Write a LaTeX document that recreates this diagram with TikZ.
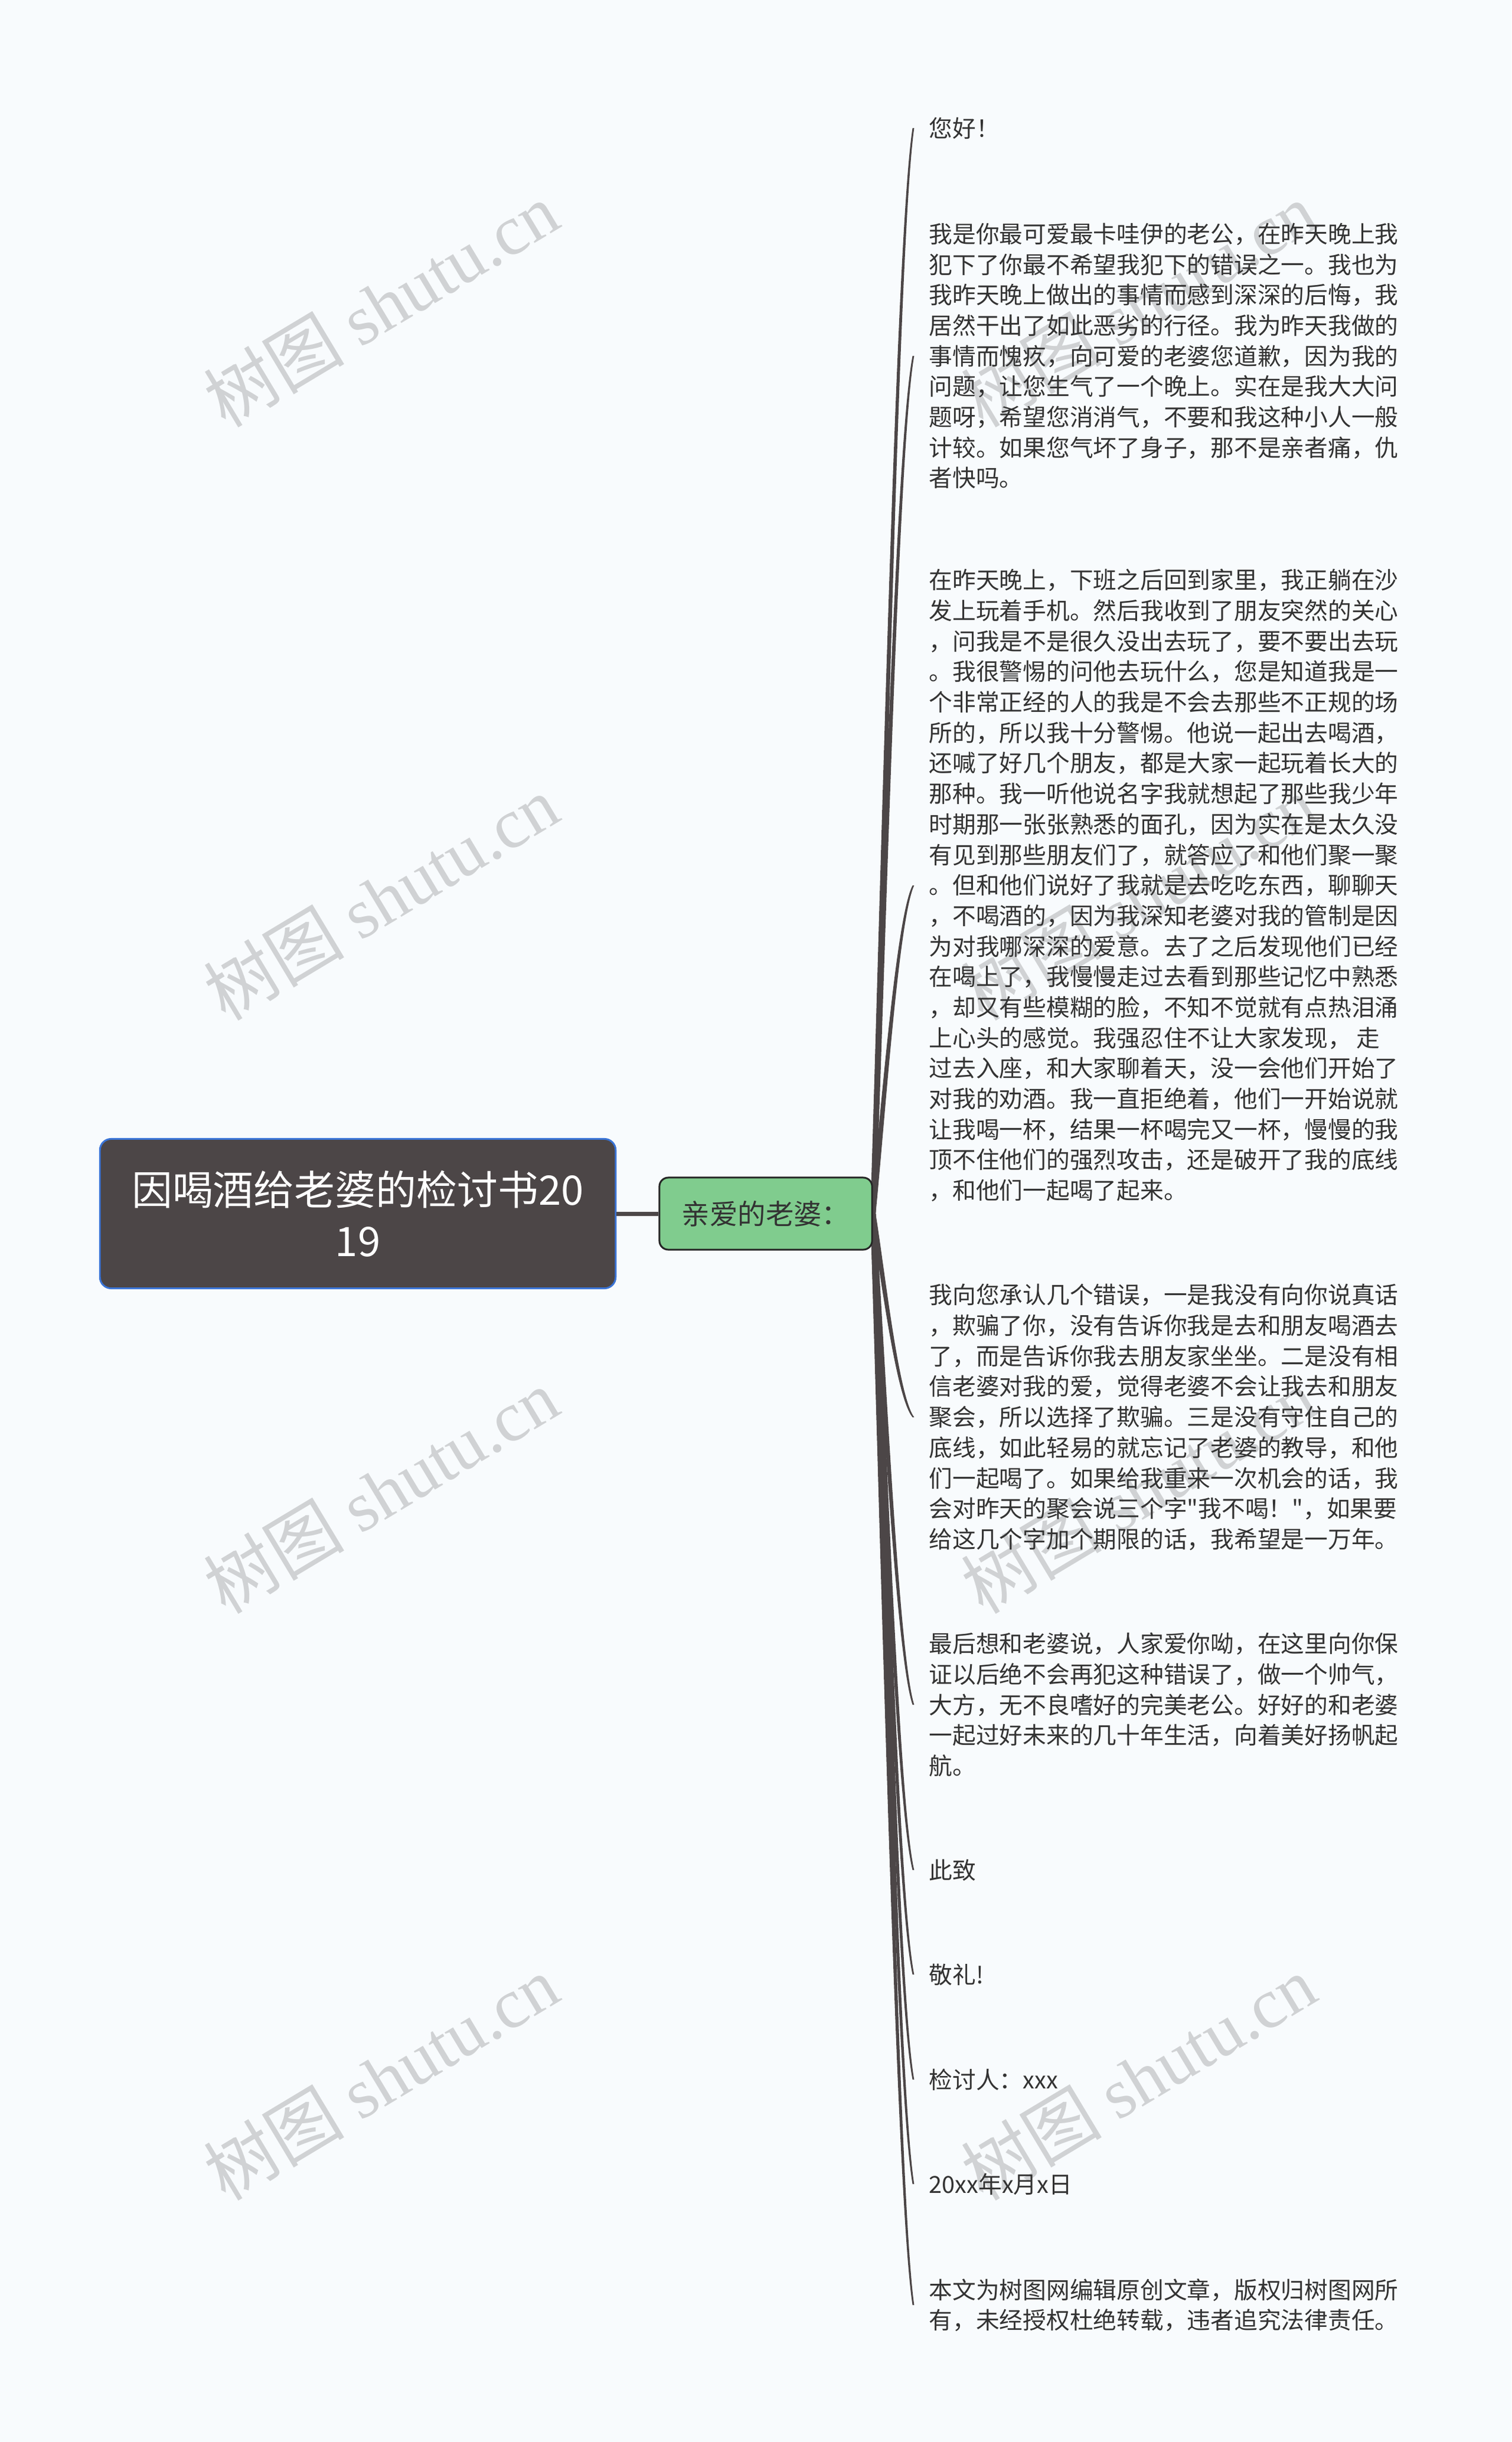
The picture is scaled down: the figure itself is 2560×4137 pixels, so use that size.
\documentclass[tikz,border=0pt]{standalone}
\usepackage{fontspec}
\setmainfont{Noto Sans CJK SC}[Ligatures=TeXOff]
\newfontfamily\wmcjk{Noto Sans CJK SC}
\newfontfamily\wmlatin{Liberation Serif}
\usetikzlibrary{positioning,calc,backgrounds}
\definecolor{colordark}{RGB}{76,70,71}
\definecolor{colorblue}{RGB}{58,116,214}
\definecolor{colorhub}{RGB}{128,204,142}
\definecolor{colorink}{RGB}{51,51,51}
\definecolor{colorwm}{RGB}{208,210,212}
\definecolor{colorbg}{RGB}{248,251,253}
\newcommand{\leaffont}{\fontsize{11.3pt}{14.7pt}\selectfont}
\newcommand{\hubfont}{\fontsize{13.5pt}{16pt}\selectfont}
\newcommand{\rootfont}{\fontsize{19.6pt}{24.75pt}\selectfont}
\tikzstyle{rootbox}=[rectangle, rounded corners=0.19cm, fill=colordark, draw=colorblue, line width=0.85pt, minimum width=8.73cm, minimum height=2.53cm, text=white, align=center, font=\rootfont]
\tikzstyle{hubbox}=[rectangle, rounded corners=0.15cm, fill=colorhub, draw=black!85, line width=0.85pt, minimum width=3.6cm, minimum height=1.22cm, text=colorink, font=\hubfont]
\tikzstyle{leaf}=[anchor=west, align=left, inner xsep=0.26cm, inner ysep=0.2cm, text=colorink, font=\leaffont]
\tikzstyle{trunk}=[draw=colordark, line width=2pt]
\tikzstyle{twig}=[fill=colordark]
\tikzstyle{wmark}=[text=colorwm, font=\fontsize{34pt}{36pt}\selectfont, rotate=31]
% tapered curve from the hub to one leaf
\newcommand{\twig}[2]{%
  \fill[twig] let \p1=(#1.east), \p2=(#2.west), \n1={\x2-\x1}, \n2={\y2-\y1} in
    (\x1-1.3pt,\y1) .. controls ({\x1+0.25*\n1-1.1pt},{\y1+0.3*\n2}) and ({\x1+0.6*\n1-0.75pt},{\y1+0.9*\n2}) .. (\x2-0.4pt,\y2)
    -- (\x2+0.4pt,\y2) .. controls ({\x1+0.6*\n1+0.75pt},{\y1+0.9*\n2}) and ({\x1+0.25*\n1+1.1pt},{\y1+0.3*\n2}) .. (\x1+1.3pt,\y1) -- cycle;}
\begin{document}
\begin{tikzpicture}[x=0.01cm, y=-0.01cm]
	\useasboundingbox (0,0) rectangle (2560,4137);
	
	\begin{scope}[on background layer]
	\fill[colorbg] (0,0) rectangle (2560,4137);
	\foreach \wy in {516,1521,2526,3520}{
		\node[wmark] at (645,\wy) {{\wmcjk 树图} {\wmlatin shutu.cn}};
		\node[wmark] at (1928,\wy) {{\wmcjk 树图} {\wmlatin shutu.cn}};
	}
	\end{scope}
	
	\node[rootbox] at (606,2056) (root) {因喝酒给老婆的检讨书20\\19};
	
	\node[hubbox] at (1297,2056) (hub) {亲爱的老婆：};
	
	\draw[trunk] (root) -- (hub);
	
	\node[leaf] at (1547,217) (t1) {您好！};
	
	\node[leaf] at (1547,603) (t2) {我是你最可爱最卡哇伊的老公，在昨天晚上我\\犯下了你最不希望我犯下的错误之一。我也为\\我昨天晚上做出的事情而感到深深的后悔，我\\居然干出了如此恶劣的行径。我为昨天我做的\\事情而愧疚，向可爱的老婆您道歉，因为我的\\问题，让您生气了一个晚上。实在是我大大问\\题呀，希望您消消气，不要和我这种小人一般\\计较。如果您气坏了身子，那不是亲者痛，仇\\者快吗。};
	
	\node[leaf] at (1547,1500) (t3) {在昨天晚上，下班之后回到家里，我正躺在沙\\发上玩着手机。然后我收到了朋友突然的关心\\，问我是不是很久没出去玩了，要不要出去玩\\。我很警惕的问他去玩什么，您是知道我是一\\个非常正经的人的我是不会去那些不正规的场\\所的，所以我十分警惕。他说一起出去喝酒，\\还喊了好几个朋友，都是大家一起玩着长大的\\那种。我一听他说名字我就想起了那些我少年\\时期那一张张熟悉的面孔，因为实在是太久没\\有见到那些朋友们了，就答应了和他们聚一聚\\。但和他们说好了我就是去吃吃东西，聊聊天\\，不喝酒的，因为我深知老婆对我的管制是因\\为对我哪深深的爱意。去了之后发现他们已经\\在喝上了，我慢慢走过去看到那些记忆中熟悉\\，却又有些模糊的脸，不知不觉就有点热泪涌\\上心头的感觉。我强忍住不让大家发现， 走\\过去入座，和大家聊着天，没一会他们开始了\\对我的劝酒。我一直拒绝着，他们一开始说就\\让我喝一杯，结果一杯喝完又一杯，慢慢的我\\顶不住他们的强烈攻击，还是破开了我的底线\\，和他们一起喝了起来。};
	
	\node[leaf] at (1547,2401) (t4) {我向您承认几个错误，一是我没有向你说真话\\，欺骗了你，没有告诉你我是去和朋友喝酒去\\了，而是告诉你我去朋友家坐坐。二是没有相\\信老婆对我的爱，觉得老婆不会让我去和朋友\\聚会，所以选择了欺骗。三是没有守住自己的\\底线，如此轻易的就忘记了老婆的教导，和他\\们一起喝了。如果给我重来一次机会的话，我\\会对昨天的聚会说三个字"我不喝！"，如果要\\给这几个字加个期限的话，我希望是一万年。};
	
	\node[leaf] at (1547,2888) (t5) {最后想和老婆说，人家爱你呦，在这里向你保\\证以后绝不会再犯这种错误了，做一个帅气，\\大方，无不良嗜好的完美老公。好好的和老婆\\一起过好未来的几十年生活，向着美好扬帆起\\航。};
	
	\node[leaf] at (1547,3168) (t6) {此致};
	
	\node[leaf] at (1547,3345) (t7) {敬礼!};
	
	\node[leaf] at (1547,3523) (t8) {检讨人：xxx};
	
	\node[leaf] at (1547,3700) (t9) {20xx年x月x日};
	
	\node[leaf] at (1547,3905) (t10) {本文为树图网编辑原创文章，版权归树图网所\\有，未经授权杜绝转载，违者追究法律责任。};
	
	\begin{scope}[on background layer]
	\foreach \t in {t1,t2,t3,t4,t5,t6,t7,t8,t9,t10}{
		\twig{hub}{\t}
	}
	\end{scope}
	
\end{tikzpicture}
\end{document}
